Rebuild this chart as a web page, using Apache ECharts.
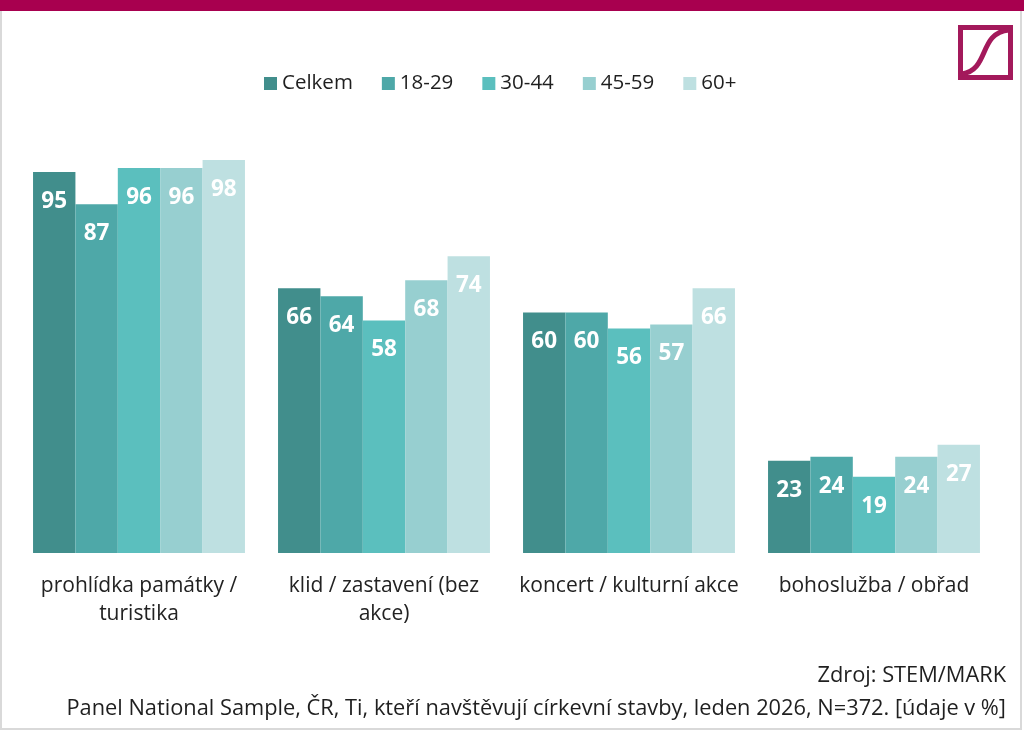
<!DOCTYPE html>
<html><head><meta charset="utf-8">
<script src="https://cdn.jsdelivr.net/npm/echarts@6/dist/echarts.min.js"></script>
<style>html,body{margin:0;padding:0;background:#fff}#c{width:1024px;height:732px}</style>
</head><body><div id="c"></div>
<script>
const categories = ['prohlídka památky /\nturistika', 'klid / zastavení (bez\nakce)', 'koncert / kulturní akce', 'bohoslužba / obřad'];
const seriesNames = ['Celkem', '18-29', '30-44', '45-59', '60+'];
const celkem = [95, 66, 60, 23];
const g1829 = [87, 64, 60, 24];
const g3044 = [96, 58, 56, 19];
const g4559 = [96, 68, 57, 24];
const g60 = [98, 74, 66, 27];
const colors = ['#418E8C', '#4EA8A8', '#5BBFBE', '#97CFD0', '#BEE0E1'];
const values = [celkem, g1829, g3044, g4559, g60];

const chart = echarts.init(document.getElementById('c'));
const font = '"Open Sans", Lato, sans-serif';
chart.setOption({
  animation: false,
  textStyle: {fontFamily: font},
  legend: {
    top: 68, left: 259, itemWidth: 13, itemHeight: 13, itemGap: 29,
    icon: 'rect',
    textStyle: {fontSize: 20.5, color: '#1f1f1f', fontFamily: font},
    data: seriesNames
  },
  grid: {left: 16.5, right: 27.5, top: 152, bottom: 179, containLabel: false},
  xAxis: {
    type: 'category', data: categories,
    axisLine: {show: false}, axisTick: {show: false},
    axisLabel: {fontSize: 21, color: '#222', lineHeight: 28, margin: 19, interval: 0, fontFamily: font}
  },
  yAxis: {type: 'value', min: 0, max: 100, show: false, splitLine: {show: false}},
  series: values.map((v, i) => ({
    name: seriesNames[i], type: 'bar', data: v,
    barGap: '0%', barCategoryGap: '13.5%',
    itemStyle: {color: colors[i]},
    label: {show: true, position: 'insideTop', distance: 18, color: '#fff', fontSize: 22.5, fontWeight: 'bold', fontFamily: font}
  })),
  graphic: [
    {type: 'rect', shape: {x: 1, y: 1, width: 1020, height: 728}, style: {fill: 'none', stroke: '#d9d9d9', lineWidth: 2}, z: 0},
    {type: 'rect', shape: {x: 0, y: 0, width: 1024, height: 11}, style: {fill: '#A8004F'}},
    {type: 'rect', shape: {x: 960.5, y: 27.5, width: 50, height: 50}, style: {fill: 'none', stroke: '#A3195B', lineWidth: 5}},
    {type: 'bezierCurve', shape: {x1: 962, y1: 74, cpx1: 990, cpy1: 70, cpx2: 978, cpy2: 33, x2: 1009, y2: 30}, style: {fill: 'none', stroke: '#A3195B', lineWidth: 5}},
    {type: 'text', right: 18, top: 665, style: {text: 'Zdroj: STEM/MARK', fontSize: 21.8, fill: '#1f1f1f', fontFamily: font, textAlign: 'right'}},
    {type: 'text', right: 18, top: 698, style: {text: 'Panel National Sample, ČR, Ti, kteří navštěvují církevní stavby, leden 2026, N=372. [údaje v %]', fontSize: 21.8, fill: '#1f1f1f', fontFamily: font, textAlign: 'right'}}
  ]
});
</script></body></html>
